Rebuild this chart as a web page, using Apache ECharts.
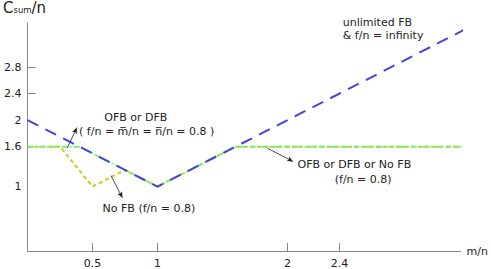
<!DOCTYPE html>
<html><head><meta charset="utf-8">
<script src="https://cdn.jsdelivr.net/npm/echarts@6/dist/echarts.min.js"></script>
<style>html,body{margin:0;padding:0;background:#fff}#c{width:491px;height:269px}</style>
</head><body><div id="c"></div>
<script>
// tick labels
const xTickValues = [0.5, 1, 2, 2.4];
const yLabelValues = [1, 1.6, 2, 2.4, 2.8];
const yTickValues = [2.4, 2.8];
// series: [m/n, Csum/n]
const unlimitedFB = [[0, 2], [1, 1], [3.42, 3.42]];
const ofbDfb = [[0, 1.6], [0.4, 1.6], [1, 1], [1.6, 1.6], [3.333, 1.6]];
const noFB = [[0, 1.6], [0.25, 1.6], [0.5, 1], [0.75, 1.25], [1, 1], [1.6, 1.6], [3.333, 1.6]];
// annotations (data coords)
const noteTexts = ['unlimited FB\n& f/n = infinity', 'OFB or DFB', '( f/n = m\u0305/n = n\u0305/n = 0.8 )', 'No FB (f/n = 0.8)', 'OFB or DFB or No FB', '(f/n = 0.8)'];
const noteAt = [[2.426, 3.373], [0.833, 2.045], [0.917, 1.828], [0.934, 0.672], [2.515, 1.328], [2.583, 1.104]];
const noteAlign = ['left', 'center', 'center', 'center', 'center', 'center'];
const arrowFrom = [[3.182, 3.243], [0.305, 1.578], [0.642, 1.164], [1.846, 1.578]];
const arrowTo = [[3.058, 3.482], [0.38, 1.888], [0.73, 0.831], [2.043, 1.378]];

const FONT = 'DejaVu Sans';
const chart = echarts.init(document.getElementById('c'), null, {renderer: 'svg'});
chart.setOption({
  animation: false,
  backgroundColor: '#fff',
  grid: {left: 23, right: 28, top: 22, bottom: 17, containLabel: false},
  xAxis: {
    type: 'value', min: 0, max: 3.333,
    name: 'm/n', nameLocation: 'end', nameGap: 6,
    nameTextStyle: {fontFamily: FONT, fontSize: 11, color: '#222'},
    axisLine: {lineStyle: {color: '#888', width: 1}},
    axisTick: {show: true, inside: true, length: 8, customValues: xTickValues, lineStyle: {color: '#888'}},
    axisLabel: {customValues: xTickValues, margin: 7, fontFamily: FONT, fontSize: 11, color: '#222'},
    splitLine: {show: false}
  },
  yAxis: {
    type: 'value', min: 0.03, max: 3.463,
    name: '{c|C}{s|sum}{c|/n}', nameLocation: 'end', nameGap: 8,
    nameTextStyle: {padding: [0, 6, 0, 0], rich: {c: {fontFamily: FONT, fontSize: 15, color: '#222'}, s: {fontFamily: FONT, fontSize: 8.5, color: '#222', verticalAlign: 'bottom', padding: [0, 0, 1, 0]}}},
    axisLine: {show: true, lineStyle: {color: '#888', width: 1}},
    axisTick: {show: true, inside: true, length: 8, customValues: yTickValues, lineStyle: {color: '#888'}},
    axisLabel: {customValues: yLabelValues, margin: 6, fontFamily: FONT, fontSize: 11, color: '#222'},
    splitLine: {show: false}
  },
  series: [
    {type: 'line', name: 'No FB', data: noFB, symbol: 'none', z: 1, clip: false,
     lineStyle: {color: '#cccc10', width: 2, type: [4, 3]}},
    {type: 'line', name: 'OFB or DFB', data: ofbDfb, symbol: 'none', z: 2, clip: false,
     lineStyle: {color: '#78f078', width: 1.8, type: [6, 2, 1.5, 2]}},
    {type: 'line', name: 'unlimited FB', data: unlimitedFB, symbol: 'none', z: 3, clip: false,
     lineStyle: {color: '#4444dd', width: 2, type: [12, 8]}},
    {type: 'line', name: 'notes', data: [], z: 4, silent: true,
     markPoint: {
       symbol: 'circle', symbolSize: 0, silent: true,
       data: noteTexts.map((t, i) => ({
         coord: noteAt[i],
         label: {show: true, position: 'inside', formatter: t, align: noteAlign[i], fontFamily: FONT, fontSize: 11, color: '#222', lineHeight: 13.5}
       }))
     },
     markLine: {
       silent: true, symbol: ['none', 'arrow'], symbolSize: [4, 6],
       label: {show: false},
       lineStyle: {color: '#222', width: 0.8, type: 'solid'},
       data: arrowFrom.map((f, i) => [{coord: f}, {coord: arrowTo[i]}])
     }
    }
  ]
});
</script></body></html>
